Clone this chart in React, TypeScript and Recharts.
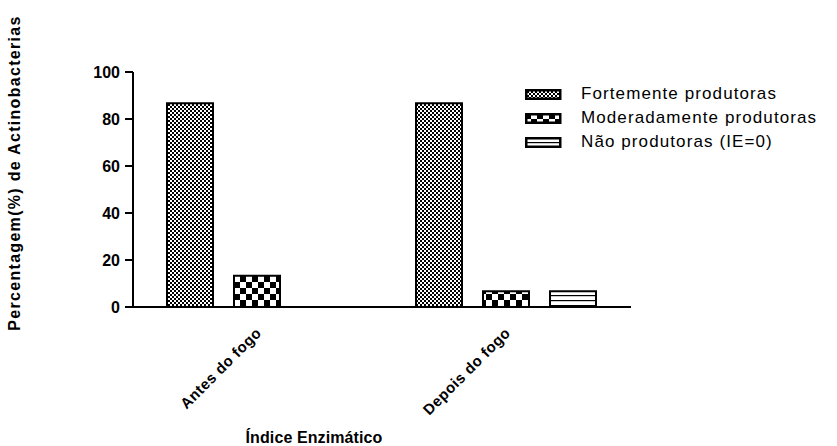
import React from 'react';
import { BarChart, Bar, XAxis, YAxis } from 'recharts';

const categories = ['Antes do fogo', 'Depois do fogo'];
const fortemente = [86.67, 86.67];
const moderadamente = [13.33, 6.67];
const naoProdutoras = [0, 6.67];
const yTicks = [0, 20, 40, 60, 80, 100];
const seriesNames = ['Fortemente produtoras', 'Moderadamente produtoras', 'Não produtoras (IE=0)'];
const seriesFills = ['url(#patFine)', 'url(#patCoarse)', 'url(#patLines)'];

const data = categories.map((c, i) => ({
  name: c,
  fort: fortemente[i],
  mod: moderadamente[i],
  nao: naoProdutoras[i],
}));

const FONT = 'Arial, "Liberation Sans", Helvetica, sans-serif';

const XTick = (props: any) => {
  const { x, y, payload } = props;
  const ax = x + 2;
  const ay = y + 16;
  return (
    <text
      x={ax}
      y={ay}
      transform={`rotate(-45 ${ax} ${ay})`}
      textAnchor="end"
      fontFamily={FONT}
      fontWeight="bold"
      fontSize={15}
      letterSpacing={0.5}
      fill="#000"
      dy={4}
    >
      {payload.value}
    </text>
  );
};

const YTick = (props: any) => {
  const { x, y, payload } = props;
  return (
    <text x={x - 3} y={y} textAnchor="end" dominantBaseline="central" fontFamily={FONT} fontWeight="bold" fontSize={16} fill="#000">
      {payload.value}
    </text>
  );
};

const LegendBox = () => (
  <div style={{ position: 'absolute', left: 525, top: 82, fontFamily: FONT, fontSize: 17, letterSpacing: 1.1, color: '#000' }}>
    {seriesNames.map((n, i) => (
      <div key={n} style={{ display: 'flex', alignItems: 'center', height: 24, whiteSpace: 'nowrap' }}>
        <svg width={38} height={11} style={{ marginRight: 18 }}>
          <rect x={1.25} y={1.25} width={34} height={8.5} fill={seriesFills[i]} stroke="#000" strokeWidth={2.5} />
        </svg>
        <span>{n}</span>
      </div>
    ))}
  </div>
);

export default function App() {
  return (
    <div style={{ position: 'absolute', left: 0, top: 0, width: 837, height: 446, background: '#fff' }}>
      <svg width={0} height={0} style={{ position: 'absolute' }}>
        <defs>
          <pattern id="patFine" width={4} height={4} patternUnits="userSpaceOnUse">
            <rect width={4} height={4} fill="#fff" />
            <rect x={0} y={0} width={2} height={2} fill="#000" />
            <rect x={2} y={2} width={2} height={2} fill="#000" />
          </pattern>
          <pattern id="patCoarse" width={12} height={12} patternUnits="userSpaceOnUse">
            <rect width={12} height={12} fill="#fff" />
            <rect x={0} y={0} width={6} height={6} fill="#000" />
            <rect x={6} y={6} width={6} height={6} fill="#000" />
          </pattern>
          <pattern id="patLines" width={6} height={5} patternUnits="userSpaceOnUse">
            <rect width={6} height={5} fill="#fff" />
            <rect x={0} y={0} width={6} height={1.2} fill="#000" />
          </pattern>
        </defs>
      </svg>
      <BarChart
        width={837}
        height={446}
        data={data}
        margin={{ top: 72, right: 206, left: 0, bottom: 0 }}
        barCategoryGap={34}
        barGap={21}
      >
        <XAxis
          dataKey="name"
          height={139}
          tickLine={false}
          axisLine={{ stroke: '#000', strokeWidth: 2 }}
          tick={<XTick />}
          interval={0}
        />
        <YAxis
          width={133}
          domain={[0, 100]}
          ticks={yTicks}
          tickSize={8}
          tickLine={{ stroke: '#000', strokeWidth: 2 }}
          axisLine={{ stroke: '#000', strokeWidth: 2 }}
          tick={<YTick />}
          interval={0}
        />
        <Bar dataKey="fort" name={seriesNames[0]} fill={seriesFills[0]} stroke="#000" strokeWidth={2} isAnimationActive={false} />
        <Bar dataKey="mod" name={seriesNames[1]} fill={seriesFills[1]} stroke="#000" strokeWidth={2} isAnimationActive={false} />
        <Bar dataKey="nao" name={seriesNames[2]} fill={seriesFills[2]} stroke="#000" strokeWidth={2} isAnimationActive={false} />
      </BarChart>
      <LegendBox />
      <svg width={837} height={446} style={{ position: 'absolute', left: 0, top: 0, pointerEvents: 'none' }}>
        <text
          x={14}
          y={173}
          transform="rotate(-90 14 173)"
          textAnchor="middle"
          dominantBaseline="central"
          fontFamily={FONT}
          fontWeight="bold"
          fontSize={16}
          letterSpacing={1.3}
          fill="#000"
        >
          Percentagem(%) de Actinobacterias
        </text>
        <text x={314} y={437} textAnchor="middle" dominantBaseline="central" fontFamily={FONT} fontWeight="bold" fontSize={16} letterSpacing={0.1} fill="#000">
          Índice Enzimático
        </text>
      </svg>
    </div>
  );
}
